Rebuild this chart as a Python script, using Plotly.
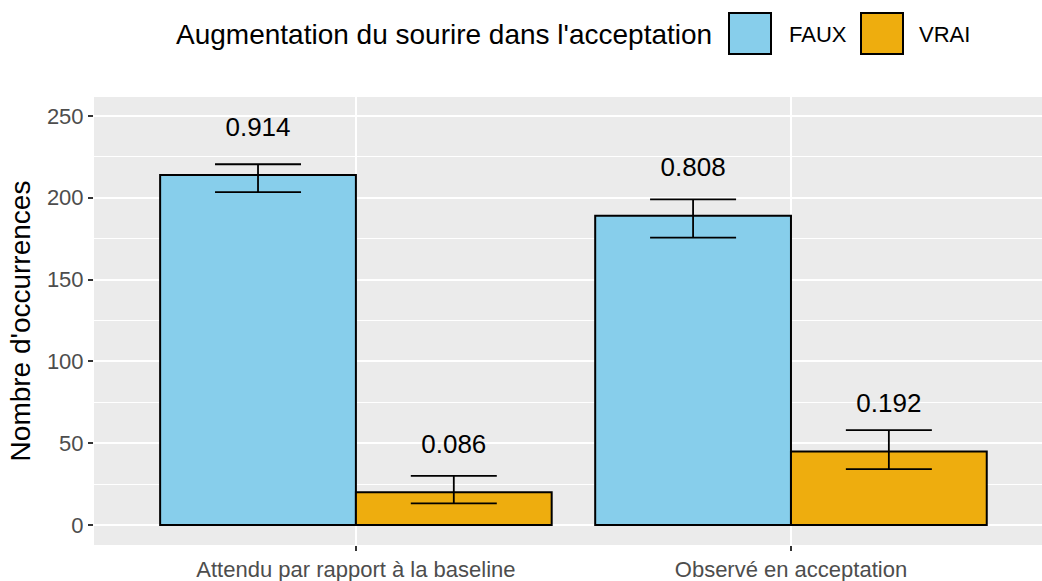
import plotly.graph_objects as go

# data
categories = ["Attendu par rapport à la baseline", "Observé en acceptation"]
groups = ["FAUX", "VRAI"]
counts_faux = [214, 189]
counts_vrai = [20, 45]
ci_low_faux = [203.5, 175.6]
ci_high_faux = [220.5, 199.0]
ci_low_vrai = [13.3, 34.2]
ci_high_vrai = [30.0, 58.0]
prop_faux = [0.914, 0.808]
prop_vrai = [0.086, 0.192]
y_ticks = [0, 50, 100, 150, 200, 250]

colors = {"FAUX": "#87CEEB", "VRAI": "#EEAD0E"}
FONT = "Liberation Sans, Arial, sans-serif"

W, H = 1042, 581
ML, MR, MT, MB = 94, 0, 97, 36


def px2x(px):
    return (px - ML) / (W - ML - MR)


def px2y(py):
    return (H - MB - py) / (H - MT - MB)


series = {
    "FAUX": (counts_faux, ci_low_faux, ci_high_faux, prop_faux),
    "VRAI": (counts_vrai, ci_low_vrai, ci_high_vrai, prop_vrai),
}

fig = go.Figure()
for g in groups:
    counts, lo, hi, prop = series[g]
    fig.add_trace(go.Bar(
        x=categories, y=counts, name=g, offsetgroup=g,
        marker=dict(color=colors[g], line=dict(color="black", width=2)),
        error_y=dict(type="data", symmetric=False,
                     array=[h - c for h, c in zip(hi, counts)],
                     arrayminus=[c - l for c, l in zip(counts, lo)],
                     color="black", thickness=1.8, width=43),
        showlegend=False, hoverinfo="skip",
    ))
    fig.add_trace(go.Scatter(
        x=categories, y=[c + 28 for c in counts], mode="text", offsetgroup=g,
        text=[f"{p:.3f}" for p in prop],
        textfont=dict(size=26, color="black", family=FONT),
        showlegend=False, hoverinfo="skip",
    ))

fig.update_layout(
    width=W, height=H,
    margin=dict(l=ML, r=MR, t=MT, b=MB),
    paper_bgcolor="white", plot_bgcolor="#EBEBEB",
    barmode="group", bargap=0.1, bargroupgap=0,
    scattermode="group", scattergap=0.1,
    font=dict(family=FONT, color="black"),
    showlegend=False,
)
fig.update_xaxes(
    type="category", range=[-0.602, 1.577],
    showgrid=True, gridcolor="white", gridwidth=2,
    ticks="outside", ticklen=5, tickwidth=1.5, tickcolor="#333333",
    tickfont=dict(size=22, color="#4D4D4D"), zeroline=False,
)
fig.update_yaxes(
    range=[-12.2, 261.6], tickvals=y_ticks,
    showgrid=True, gridcolor="white", gridwidth=2,
    minor=dict(tick0=0, dtick=25, showgrid=True, gridcolor="white", gridwidth=1),
    ticks="outside", ticklen=5, tickwidth=1.5, tickcolor="#333333",
    tickfont=dict(size=22, color="#4D4D4D"), zeroline=False,
    title=dict(text="Nombre d'occurrences", font=dict(size=28, color="black"), standoff=8),
)

# legend drawn by hand so the keys match the large ggplot squares
fig.add_annotation(
    x=px2x(714), y=px2y(35), xref="paper", yref="paper",
    text="Augmentation du sourire dans l'acceptation", showarrow=False,
    xanchor="right", yanchor="middle", font=dict(size=28, color="black"),
)
key_pos = {"FAUX": (729, 787), "VRAI": (861, 917)}
for g in groups:
    kx, tx = key_pos[g]
    fig.add_shape(
        type="rect", xref="paper", yref="paper",
        x0=px2x(kx), x1=px2x(kx + 42), y0=px2y(54), y1=px2y(13),
        fillcolor=colors[g], line=dict(color="black", width=2),
    )
    fig.add_annotation(
        x=px2x(tx), y=px2y(35), xref="paper", yref="paper",
        text=g, showarrow=False, xanchor="left", yanchor="middle",
        font=dict(size=22, color="black"),
    )

fig.write_html("out.html", config={"displayModeBar": False},
               post_script="document.body.style.margin='0';")
